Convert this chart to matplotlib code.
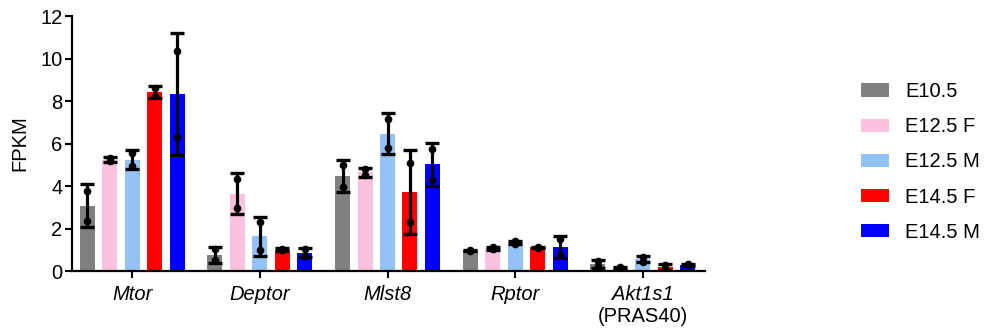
import numpy as np
import matplotlib
matplotlib.use("Agg")
import matplotlib.pyplot as plt
from matplotlib.patches import Patch

plt.rcParams['font.family'] = ['Liberation Sans', 'DejaVu Sans']

# genes on the x axis
genes = ['Mtor', 'Deptor', 'Mlst8', 'Rptor', 'Akt1s1']
groups = ['E10.5', 'E12.5 F', 'E12.5 M', 'E14.5 F', 'E14.5 M']
colors = ['#808080', '#FEC0DF', '#94C2F6', '#FF0000', '#0000FF']

# two replicates (FPKM) per gene, per group
e10_5 = [[3.79, 2.38], [1.03, 0.51], [5.00, 3.94], [0.95, 0.98], [0.48, 0.22]]
e12_5_f = [[5.18, 5.32], [4.34, 2.96], [4.79, 4.51], [1.03, 1.12], [0.19, 0.10]]
e12_5_m = [[5.57, 4.93], [2.29, 1.00], [7.15, 5.80], [1.28, 1.41], [0.66, 0.45]]
e14_5_f = [[8.62, 8.24], [0.97, 1.06], [5.10, 2.31], [1.10, 1.14], [0.30, 0.08]]
e14_5_m = [[10.35, 6.29], [1.03, 0.72], [5.73, 4.31], [1.52, 0.78], [0.34, 0.27]]

series = [e10_5, e12_5_f, e12_5_m, e14_5_f, e14_5_m]

fig = plt.figure(figsize=(9.86, 3.29), dpi=100)
ax = fig.add_axes([0.0733, 0.176, 0.642, 0.775])

x = np.arange(len(genes))
pitch = 0.176
width = 0.118

for i, (data, col) in enumerate(zip(series, colors)):
    arr = np.array(data)
    means = arr.mean(axis=1)
    sds = arr.std(axis=1, ddof=1)
    xpos = x + (i - 2) * pitch
    ax.bar(xpos, means, width=width, color=col, zorder=1)
    ax.errorbar(xpos, means, yerr=sds, fmt='none', ecolor='black',
                elinewidth=2.3, capsize=5.0, capthick=2.4, zorder=3)
    for j in range(len(genes)):
        ax.plot([xpos[j]] * arr.shape[1], arr[j], 'o', color='black',
                markersize=4.5, zorder=4)

ax.set_xlim(-0.47, 4.49)
ax.set_ylim(0, 12)
ax.set_yticks(range(0, 13, 2))
ax.set_xticks(x)
ax.set_xticklabels(genes, fontsize=14.5, style='italic')
ax.text(x[4], -0.14, '(PRAS40)', transform=ax.get_xaxis_transform(),
        ha='center', va='top', fontsize=14.5)
ax.tick_params(axis='y', labelsize=14.5, width=1.5, length=5, pad=2)
ax.tick_params(axis='x', width=1.5, length=5, pad=5)
ax.set_ylabel('FPKM', fontsize=14.5, labelpad=8)

for s in ['top', 'right']:
    ax.spines[s].set_visible(False)
for s in ['left', 'bottom']:
    ax.spines[s].set_linewidth(1.6)

handles = [Patch(facecolor=c, label=g) for g, c in zip(groups, colors)]
fig.legend(handles=handles, loc='upper left', bbox_to_anchor=(0.873, 0.75),
           frameon=False, fontsize=14.5, handlelength=1.4, handleheight=0.65,
           labelspacing=0.8, handletextpad=0.8, borderpad=0,
           borderaxespad=0)

fig.savefig('out.png', dpi=100)
